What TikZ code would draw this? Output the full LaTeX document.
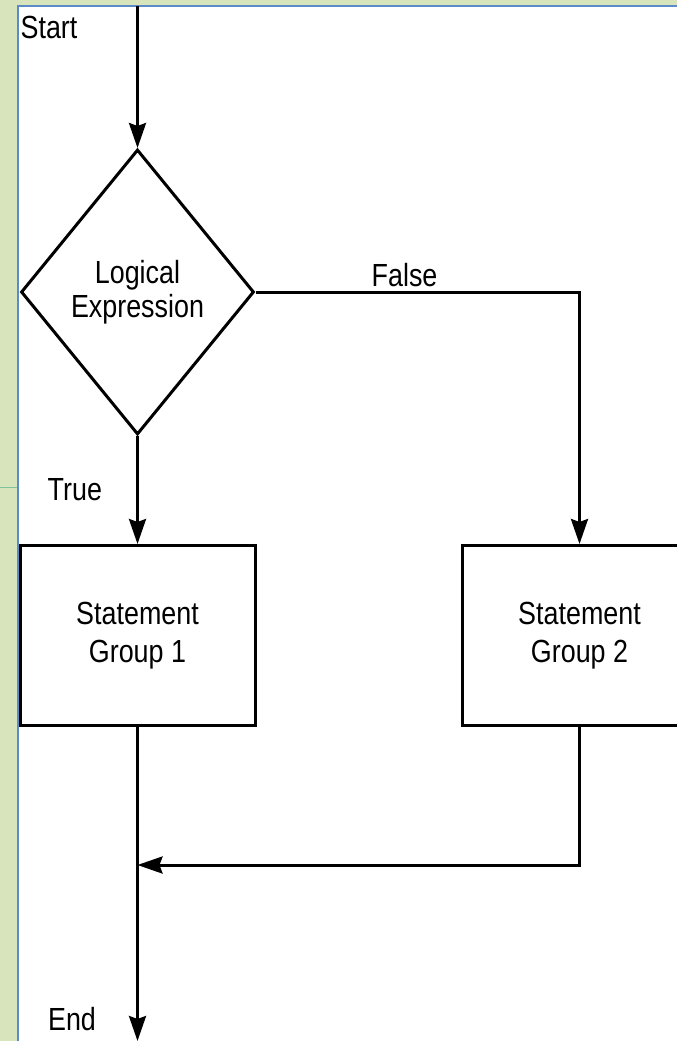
\documentclass[tikz,border=0pt]{standalone}
\usepackage{fontspec}
\newfontfamily\chartfont[FakeStretch=0.84]{Liberation Sans}
\usetikzlibrary{arrows.meta,positioning,shapes.geometric}
\definecolor{sidebar}{HTML}{D8E4BC}
\definecolor{rule}{HTML}{5B8CC8}
\definecolor{tick}{HTML}{7DC49A}
\tikzset{decision/.style={diamond,draw,line width=3pt,minimum width=233pt,minimum height=285pt,
 inner sep=0pt,align=center,font=\chartfont\fontsize{32}{34}\selectfont},
 stmt/.style={draw,line width=3pt,minimum width=235pt,minimum height=180pt,align=center,
 font=\chartfont\fontsize{32}{38}\selectfont},
 tag/.style={inner sep=0pt,font=\chartfont\fontsize{32}{36}\selectfont},
 arr/.style={-{Stealth[length=25pt,width=17pt,inset=3pt]},line width=3pt}}
\begin{document}
\begin{tikzpicture}[x=1pt,y=-1pt,node distance=108pt and 204pt]
\useasboundingbox (0,0) rectangle (677,1041);
% page frame
\fill[white] (0,0) rectangle (677,1041);
\fill[sidebar] (0,0) rectangle (17,1041);
\fill[sidebar] (0,0) rectangle (677,5);
\draw[tick,line width=1pt] (0,487)--(17,487);
\draw[rule,line width=2pt] (18,1041)--(18,6)--(677,6);
\clip (19,7) rectangle (677,1041);
% flow
\node[decision] (cond) at (137.5,292) {Logical\\Expression};
\node[stmt,below=of cond] (grp1) {Statement\\Group 1};
\node[stmt,right=of grp1] (grp2) {Statement\\Group 2};
\node[tag] (start) at (49,27) {Start};
\node[tag] (end) at (72,1019) {End};
\coordinate (top) at (137.5,6);
\coordinate (merge) at (137.5,865);
\coordinate (bottom) at (137.5,1041);
\draw[arr] (top)--(cond.north);
\draw[arr] (cond.south)--node[tag,left=34pt]{True}(grp1.north);
\draw[arr] (cond.east)-|node[tag,pos=.23,above=4pt]{False}(grp2.north);
\draw[arr] (grp2.south)|-(merge);
\draw[arr] (grp1.south)--(bottom);
\end{tikzpicture}
\end{document}
